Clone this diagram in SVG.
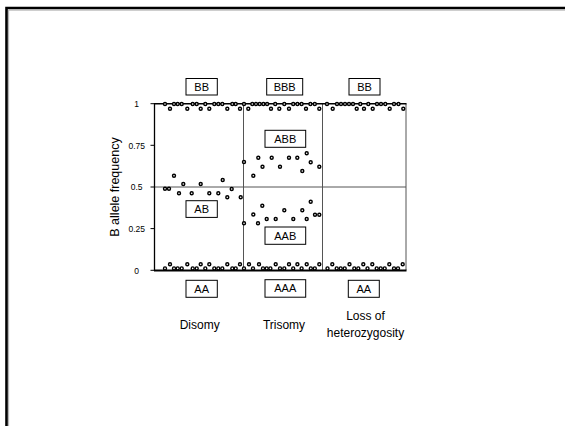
<svg xmlns="http://www.w3.org/2000/svg" width="565" height="426" viewBox="0 0 565 426">
<style>
  text { font-family: "Liberation Sans", Arial, sans-serif; fill: #000; }
  .lbl { font-size: 11px; text-anchor: middle; }
  .box { fill: #fff; stroke: #000; stroke-width: 1; }
  .tick { font-size: 8.5px; text-anchor: middle; }
  .cap { font-size: 12px; text-anchor: middle; }
  .grid { stroke: #555; stroke-width: 1; fill: none; }
  .ax { stroke: #000; fill: none; }
  .d circle { fill: #fff; stroke: #000; stroke-width: 1.4; }
</style>
<rect width="565" height="426" fill="#fff"/>
<!-- slide frame -->
<path d="M6.5,426 V8 H565" fill="none" stroke="#000" stroke-width="2.6"/>
<path d="M8.6,426 V10.1 H565" fill="none" stroke="#999" stroke-width="0.8"/>

<!-- plot frame and grid -->
<g id="axes">
  <line class="grid" x1="243.5" y1="103.7" x2="243.5" y2="270.3"/>
  <line class="grid" x1="322.5" y1="103.7" x2="322.5" y2="270.3"/>
  <line class="grid" x1="406" y1="103.7" x2="406" y2="270.3"/>
  <line class="grid" x1="154.5" y1="187" x2="406" y2="187"/>
  <line class="ax" x1="154.5" y1="103" x2="154.5" y2="271" stroke-width="1.3"/>
  <line class="ax" x1="154.5" y1="103.7" x2="406.5" y2="103.7" stroke-width="1.6"/>
  <line class="ax" x1="154" y1="270.5" x2="406.5" y2="270.5" stroke-width="2"/>
  <g class="ax" stroke-width="1">
    <line x1="150.5" y1="103.7" x2="154.5" y2="103.7"/>
    <line x1="150.5" y1="145.3" x2="154.5" y2="145.3"/>
    <line x1="150.5" y1="187" x2="154.5" y2="187"/>
    <line x1="150.5" y1="228.6" x2="154.5" y2="228.6"/>
    <line x1="150.5" y1="270.3" x2="154.5" y2="270.3"/>
  </g>
  <text class="tick" x="136.7" y="107">1</text>
  <text class="tick" x="136.7" y="148.5">0.75</text>
  <text class="tick" x="136.7" y="190.2">0.5</text>
  <text class="tick" x="136.7" y="231.8">0.25</text>
  <text class="tick" x="136.7" y="273.5">0</text>
  <text font-size="12.5" text-anchor="middle" transform="translate(119,187) rotate(-90)">B allele frequency</text>
</g>

<!-- data points -->
<g class="d" id="top-row">
  <circle cx="165" cy="104" r="1.5"/><circle cx="170" cy="108.7" r="1.5"/><circle cx="174" cy="104" r="1.5"/><circle cx="177.7" cy="104" r="1.5"/><circle cx="181.7" cy="104" r="1.5"/><circle cx="187.3" cy="108.7" r="1.5"/><circle cx="192.7" cy="104" r="1.5"/><circle cx="196.7" cy="104" r="1.5"/><circle cx="200.7" cy="108.7" r="1.5"/><circle cx="205.3" cy="104" r="1.5"/><circle cx="209.3" cy="108.7" r="1.5"/><circle cx="214.3" cy="104" r="1.5"/><circle cx="218.3" cy="104" r="1.5"/><circle cx="222.3" cy="104" r="1.5"/><circle cx="227.3" cy="108.7" r="1.5"/><circle cx="232.3" cy="104" r="1.5"/><circle cx="235.7" cy="104" r="1.5"/><circle cx="240" cy="108.7" r="1.5"/>
  <circle cx="244" cy="104" r="1.5"/><circle cx="248.3" cy="108.7" r="1.5"/><circle cx="252.3" cy="104" r="1.5"/><circle cx="256" cy="104" r="1.5"/><circle cx="259.7" cy="104" r="1.5"/><circle cx="263.4" cy="104" r="1.5"/><circle cx="267.1" cy="104" r="1.5"/><circle cx="271" cy="108.7" r="1.5"/><circle cx="275.2" cy="104" r="1.5"/><circle cx="279.3" cy="108.7" r="1.5"/><circle cx="284.3" cy="104" r="1.5"/><circle cx="289" cy="108.7" r="1.5"/><circle cx="293.2" cy="104" r="1.5"/><circle cx="297.4" cy="104" r="1.5"/><circle cx="301.6" cy="104" r="1.5"/><circle cx="306" cy="108.7" r="1.5"/><circle cx="310.4" cy="104" r="1.5"/><circle cx="314.8" cy="104" r="1.5"/><circle cx="319.3" cy="108.7" r="1.5"/>
  <circle cx="327" cy="104" r="1.5"/><circle cx="332.7" cy="108.7" r="1.5"/><circle cx="337" cy="104" r="1.5"/><circle cx="341" cy="104" r="1.5"/><circle cx="345" cy="104" r="1.5"/><circle cx="349" cy="104" r="1.5"/><circle cx="353" cy="104" r="1.5"/><circle cx="356.7" cy="108.7" r="1.5"/><circle cx="360.3" cy="104" r="1.5"/><circle cx="364" cy="108.7" r="1.5"/><circle cx="368.3" cy="104" r="1.5"/><circle cx="372.7" cy="108.7" r="1.5"/><circle cx="377" cy="104" r="1.5"/><circle cx="381" cy="104" r="1.5"/><circle cx="385.3" cy="104" r="1.5"/><circle cx="389.7" cy="108.7" r="1.5"/><circle cx="394" cy="104" r="1.5"/><circle cx="398.5" cy="104" r="1.5"/><circle cx="403.3" cy="108.7" r="1.5"/>
</g>
<g class="d" id="bottom-row">
  <circle cx="165" cy="268.4" r="1.5"/><circle cx="170" cy="264.3" r="1.5"/><circle cx="174" cy="268.4" r="1.5"/><circle cx="177.7" cy="268.4" r="1.5"/><circle cx="181.7" cy="268.4" r="1.5"/><circle cx="187.3" cy="264.3" r="1.5"/><circle cx="192.7" cy="268.4" r="1.5"/><circle cx="196.7" cy="268.4" r="1.5"/><circle cx="200.7" cy="264.3" r="1.5"/><circle cx="205.3" cy="268.4" r="1.5"/><circle cx="209.3" cy="264.3" r="1.5"/><circle cx="214.3" cy="268.4" r="1.5"/><circle cx="218.3" cy="268.4" r="1.5"/><circle cx="222.3" cy="268.4" r="1.5"/><circle cx="227.3" cy="264.3" r="1.5"/><circle cx="232.3" cy="268.4" r="1.5"/><circle cx="235.7" cy="268.4" r="1.5"/><circle cx="240" cy="264.3" r="1.5"/>
  <circle cx="244" cy="268.4" r="1.5"/><circle cx="249" cy="264.3" r="1.5"/><circle cx="253" cy="268.4" r="1.5"/><circle cx="259" cy="264.3" r="1.5"/><circle cx="263" cy="268.4" r="1.5"/><circle cx="266.7" cy="268.4" r="1.5"/><circle cx="270.4" cy="268.4" r="1.5"/><circle cx="275.7" cy="264.3" r="1.5"/><circle cx="280" cy="268.4" r="1.5"/><circle cx="284.3" cy="268.4" r="1.5"/><circle cx="289" cy="264.3" r="1.5"/><circle cx="293.2" cy="268.4" r="1.5"/><circle cx="297.4" cy="264.3" r="1.5"/><circle cx="301.6" cy="268.4" r="1.5"/><circle cx="306.7" cy="264.3" r="1.5"/><circle cx="310.8" cy="268.4" r="1.5"/><circle cx="314.8" cy="268.4" r="1.5"/><circle cx="319.3" cy="264.3" r="1.5"/>
  <circle cx="327.5" cy="268.4" r="1.5"/><circle cx="332.3" cy="264.3" r="1.5"/><circle cx="336.7" cy="268.4" r="1.5"/><circle cx="340.7" cy="268.4" r="1.5"/><circle cx="344.7" cy="268.4" r="1.5"/><circle cx="349.5" cy="264.3" r="1.5"/><circle cx="354.3" cy="268.4" r="1.5"/><circle cx="358.3" cy="268.4" r="1.5"/><circle cx="363.3" cy="264.3" r="1.5"/><circle cx="367.5" cy="268.4" r="1.5"/><circle cx="372.3" cy="264.3" r="1.5"/><circle cx="376.7" cy="268.4" r="1.5"/><circle cx="380.7" cy="268.4" r="1.5"/><circle cx="384.7" cy="268.4" r="1.5"/><circle cx="389.3" cy="264.3" r="1.5"/><circle cx="394" cy="268.4" r="1.5"/><circle cx="398" cy="268.4" r="1.5"/><circle cx="402.7" cy="264.3" r="1.5"/>
</g>
<g class="d" id="disomy-het">
  <circle cx="165" cy="188.7" r="1.5"/><circle cx="169" cy="188.7" r="1.5"/><circle cx="174" cy="175.7" r="1.5"/><circle cx="179" cy="193.3" r="1.5"/><circle cx="183.3" cy="184" r="1.5"/><circle cx="191.7" cy="193.3" r="1.5"/><circle cx="200.7" cy="184" r="1.5"/><circle cx="209.3" cy="193.3" r="1.5"/><circle cx="218.3" cy="193.3" r="1.5"/><circle cx="222.7" cy="180" r="1.5"/><circle cx="227.3" cy="197.3" r="1.5"/><circle cx="231.7" cy="189" r="1.5"/><circle cx="240.7" cy="197.3" r="1.5"/>
</g>
<g class="d" id="trisomy-abb">
  <circle cx="244" cy="162" r="1.5"/><circle cx="253.3" cy="175.7" r="1.5"/><circle cx="258.3" cy="157.7" r="1.5"/><circle cx="262.5" cy="166.7" r="1.5"/><circle cx="271.7" cy="157.7" r="1.5"/><circle cx="280" cy="166.7" r="1.5"/><circle cx="289" cy="157.7" r="1.5"/><circle cx="297.3" cy="157.7" r="1.5"/><circle cx="302.3" cy="171" r="1.5"/><circle cx="306.7" cy="153.3" r="1.5"/><circle cx="310.7" cy="162.3" r="1.5"/><circle cx="319.3" cy="166.7" r="1.5"/>
</g>
<g class="d" id="trisomy-aab">
  <circle cx="244" cy="223.3" r="1.5"/><circle cx="253.3" cy="214.5" r="1.5"/><circle cx="258" cy="223.3" r="1.5"/><circle cx="262.3" cy="205.7" r="1.5"/><circle cx="266.7" cy="219" r="1.5"/><circle cx="275.7" cy="219" r="1.5"/><circle cx="284.3" cy="210.3" r="1.5"/><circle cx="293.3" cy="219" r="1.5"/><circle cx="302.3" cy="210.3" r="1.5"/><circle cx="306.7" cy="219" r="1.5"/><circle cx="310.7" cy="201.7" r="1.5"/><circle cx="315" cy="214.7" r="1.5"/><circle cx="319.3" cy="214.7" r="1.5"/>
</g>

<!-- genotype label nodes -->
<g id="n-bb1"><rect class="box" x="186" y="78.5" width="31.3" height="16.5"/><text class="lbl" x="201.7" y="90.7">BB</text></g>
<g id="n-bbb"><rect class="box" x="266.7" y="78.5" width="36" height="16.5"/><text class="lbl" x="284.7" y="90.7">BBB</text></g>
<g id="n-bb2"><rect class="box" x="349" y="78.5" width="31" height="16.5"/><text class="lbl" x="364.5" y="90.7">BB</text></g>
<g id="n-abb"><rect class="box" x="265" y="130.3" width="40.7" height="17"/><text class="lbl" x="285.3" y="142.7">ABB</text></g>
<g id="n-ab"><rect class="box" x="186" y="200.7" width="31.3" height="16.7"/><text class="lbl" x="201.7" y="213">AB</text></g>
<g id="n-aab"><rect class="box" x="265" y="227" width="40.7" height="17.3"/><text class="lbl" x="285.3" y="239.5">AAB</text></g>
<g id="n-aa1"><rect class="box" x="186" y="280.3" width="31.3" height="17"/><text class="lbl" x="201.7" y="292.7">AA</text></g>
<g id="n-aaa"><rect class="box" x="265" y="279.7" width="40.7" height="17.5"/><text class="lbl" x="285.3" y="292.3">AAA</text></g>
<g id="n-aa2"><rect class="box" x="348.3" y="280.3" width="31" height="17"/><text class="lbl" x="363.8" y="292.7">AA</text></g>

<!-- column captions -->
<g id="c-disomy"><text class="cap" x="199.7" y="329.2">Disomy</text></g>
<g id="c-trisomy"><text class="cap" x="284" y="329.2">Trisomy</text></g>
<g id="c-loh"><text class="cap" x="365.5" y="320.2">Loss of</text><text class="cap" x="365.5" y="337.4">heterozygosity</text></g>
</svg>
